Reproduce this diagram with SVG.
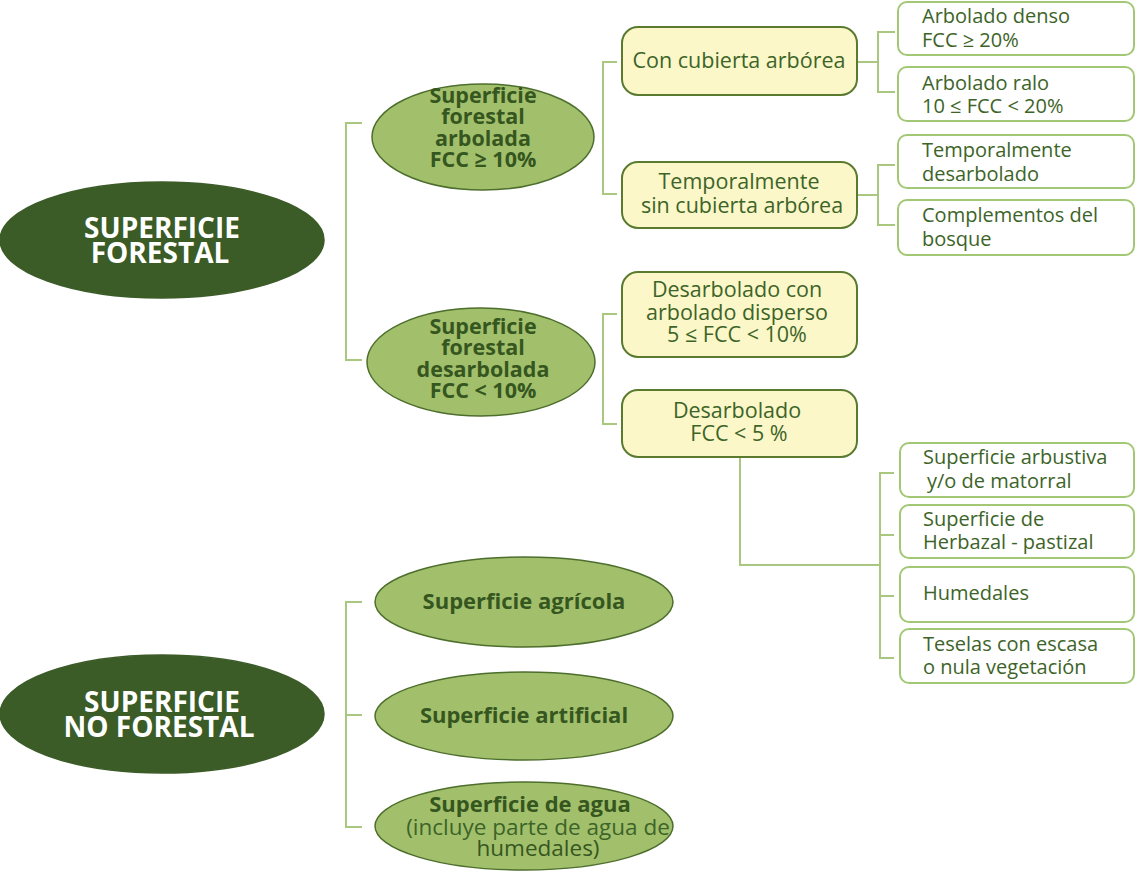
<svg xmlns="http://www.w3.org/2000/svg" width="1136" height="874" viewBox="0 0 1136 874">
<style>
.dk{fill:#3b5b27;stroke:#3b5b27;stroke-width:1.5}
.lt{fill:#a2c06c;stroke:#4d6e2c;stroke-width:1.5}
.ybox{fill:#fbf7c9;stroke:#5a7a30;stroke-width:2}
.wbox{fill:#ffffff;stroke:#a3c875;stroke-width:2}
.ln{fill:none;stroke:#a9c77f;stroke-width:2}
text{font-family:"Open Sans","Noto Sans",sans-serif}
.tw{fill:#ffffff;font-weight:bold;font-size:28px;text-anchor:middle}
.tb{fill:#36561f;font-weight:bold;font-size:21.5px;text-anchor:middle}
.tbb{fill:#36561f;font-weight:bold;font-size:22px;text-anchor:middle}
.tm{fill:#3d6428;font-size:21.5px;text-anchor:middle}
.tr{fill:#3d6428;font-size:20px}
.ta{fill:#3d6428;font-size:22.5px;text-anchor:middle}
</style>
<rect width="1136" height="874" fill="#ffffff"/>
<g id="connectors">
<path class="ln" d="M362,123 H346 V360 H362"/>
<path class="ln" d="M617,62 H603 V194 H617"/>
<path class="ln" d="M857,62 H878 M895,32 H878 V92 H895"/>
<path class="ln" d="M857,195 H878 M895,165 H878 V225 H895"/>
<path class="ln" d="M617,314 H603 V424 H617"/>
<path class="ln" d="M740,457 V565 H880 M894,473 H880 V658 H894 M880,535 H894 M880,596 H894"/>
<path class="ln" d="M362,602 H346 V827 H362 M346,715 H362"/>
</g>
<g id="n-forestal">
<ellipse class="dk" cx="162" cy="240" rx="162" ry="58"/>
<text class="tw" x="162" y="238">SUPERFICIE<tspan x="160" dy="25">FORESTAL</tspan></text>
</g>
<g id="n-noforestal">
<ellipse class="dk" cx="162" cy="714" rx="162" ry="59"/>
<text class="tw" x="162" y="712">SUPERFICIE<tspan x="159" dy="25">NO FORESTAL</tspan></text>
</g>
<g id="n-arbolada">
<ellipse class="lt" cx="483" cy="137" rx="111" ry="53"/>
<text class="tb" x="483" y="103">Superficie<tspan x="483" dy="21">forestal</tspan><tspan x="483" dy="22">arbolada</tspan><tspan x="483" dy="21">FCC ≥ 10%</tspan></text>
</g>
<g id="n-desarbolada">
<ellipse class="lt" cx="481" cy="362" rx="114" ry="54"/>
<text class="tb" x="483" y="334">Superficie<tspan x="483" dy="21">forestal</tspan><tspan x="483" dy="22">desarbolada</tspan><tspan x="483" dy="21">FCC &lt; 10%</tspan></text>
</g>
<g id="n-conarborea">
<rect class="ybox" x="622" y="27" width="235" height="68" rx="16"/>
<text class="tm" x="739" y="68">Con cubierta arbórea</text>
</g>
<g id="n-sinarborea">
<rect class="ybox" x="622" y="162" width="235" height="66" rx="16"/>
<text class="tm" x="739" y="189">Temporalmente<tspan x="742" dy="24">sin cubierta arbórea</tspan></text>
</g>
<g id="n-disperso">
<rect class="ybox" x="622" y="272" width="235" height="85" rx="16"/>
<text class="tm" x="737" y="297">Desarbolado con<tspan x="737" dy="23">arbolado disperso</tspan><tspan x="737" dy="22">5 ≤ FCC &lt; 10%</tspan></text>
</g>
<g id="n-fcc5">
<rect class="ybox" x="622" y="390" width="235" height="67" rx="16"/>
<text class="tm" x="737" y="418">Desarbolado<tspan x="739" dy="23">FCC &lt; 5 %</tspan></text>
</g>
<g id="n-denso">
<rect class="wbox" x="898" y="2" width="236" height="53" rx="9"/>
<text class="tr" x="922" y="23">Arbolado denso<tspan x="922" dy="24">FCC ≥ 20%</tspan></text>
</g>
<g id="n-ralo">
<rect class="wbox" x="898" y="67" width="236" height="54" rx="9"/>
<text class="tr" x="922" y="90">Arbolado ralo<tspan x="922" dy="23">10 ≤ FCC &lt; 20%</tspan></text>
</g>
<g id="n-tempdes">
<rect class="wbox" x="898" y="135" width="236" height="53" rx="9"/>
<text class="tr" x="922" y="157">Temporalmente<tspan x="922" dy="24">desarbolado</tspan></text>
</g>
<g id="n-complementos">
<rect class="wbox" x="898" y="200" width="236" height="55" rx="9"/>
<text class="tr" x="922" y="222">Complementos del<tspan x="922" dy="24">bosque</tspan></text>
</g>
<g id="n-arbustiva">
<rect class="wbox" x="900" y="443" width="234" height="54" rx="9"/>
<text class="tr" x="923" y="464">Superficie arbustiva<tspan x="927" dy="24">y/o de matorral</tspan></text>
</g>
<g id="n-herbazal">
<rect class="wbox" x="900" y="505" width="234" height="53" rx="9"/>
<text class="tr" x="923" y="526">Superficie de<tspan x="923" dy="23">Herbazal - pastizal</tspan></text>
</g>
<g id="n-humedales">
<rect class="wbox" x="900" y="567" width="234" height="55" rx="9"/>
<text class="tr" x="923" y="600">Humedales</text>
</g>
<g id="n-teselas">
<rect class="wbox" x="900" y="629" width="234" height="54" rx="9"/>
<text class="tr" x="923" y="651">Teselas con escasa<tspan x="923" dy="23">o nula vegetación</tspan></text>
</g>
<g id="n-agricola">
<ellipse class="lt" cx="524" cy="602" rx="149" ry="45"/>
<text class="tbb" x="524" y="609">Superficie agrícola</text>
</g>
<g id="n-artificial">
<ellipse class="lt" cx="524" cy="716" rx="149" ry="44"/>
<text class="tbb" x="524" y="723">Superficie artificial</text>
</g>
<g id="n-agua">
<ellipse class="lt" cx="524" cy="826" rx="149" ry="44"/>
<text class="tbb" x="530" y="812">Superficie de agua<tspan class="ta" x="538" dy="23" font-weight="normal">(incluye parte de agua de</tspan><tspan x="538" dy="21" font-weight="normal" font-size="22.5px">humedales)</tspan></text>
</g>
</svg>
